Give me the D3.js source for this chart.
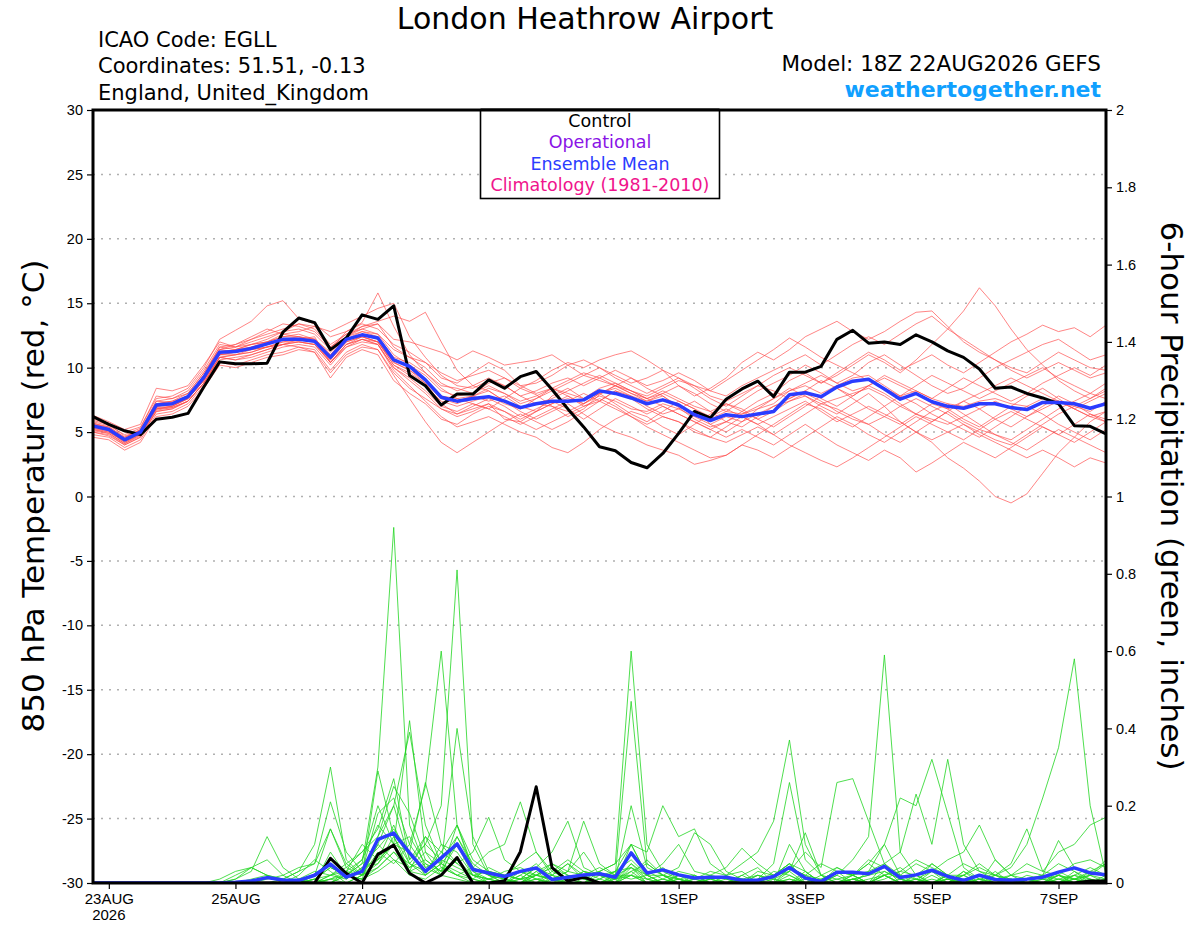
<!DOCTYPE html>
<html>
<head>
<meta charset="utf-8">
<script src="https://cdn.jsdelivr.net/npm/d3@7"></script>
<style>
  body { margin: 0; background: #fff; }
  svg { display: block; font-family: "DejaVu Sans", "Liberation Sans", sans-serif; }
</style>
</head>
<body>
<div id="chart"></div>
<script>
// --- data (6-hourly from 18Z 22AUG2026) ---
const startTime = "2026-08-22T18:00:00Z";
const stepHours = 6;

const tempControl = [
  6.2,5.6,5.1,4.8,6.0,6.15,6.45,8.5,10.45,10.3,
  10.3,10.35,12.75,13.85,13.5,11.4,12.3,14.1,13.75,14.8,
  9.4,8.6,7.1,7.95,7.95,9.05,8.4,9.3,9.7,8.3,
  6.8,5.4,3.86,3.55,2.64,2.23,3.34,4.9,6.6,6.1,
  7.55,8.35,8.95,7.75,9.65,9.65,10.1,12.2,12.9,11.9,
  12.0,11.8,12.55,12.0,11.3,10.8,9.9,8.4,8.5,8.0,
  7.65,7.2,5.5,5.45,4.85
];
const tempMean = [
  5.47,5.2,4.4,5.0,7.1,7.2,7.75,9.25,11.2,11.25,
  11.5,11.85,12.2,12.2,12.05,10.8,12.2,12.55,12.3,10.6,
  10.1,9.05,7.7,7.4,7.6,7.75,7.4,6.9,7.2,7.4,
  7.4,7.5,8.2,8.0,7.65,7.2,7.5,7.1,6.35,5.9,
  6.35,6.2,6.4,6.6,7.9,8.05,7.75,8.5,8.95,9.1,
  8.35,7.55,8.0,7.35,7.0,6.85,7.2,7.2,6.9,6.75,
  7.3,7.3,7.2,6.85,7.2
];
const tempMembers = [
  [5.8,5.5,4.8,5.3,7.8,7.6,8.2,9.8,11.8,11.6, 12.0,12.4,12.8,13.0,12.6,11.4,12.8,13.5,15.8,13.2, 11.0,9.6,8.4,7.6,7.2,6.8,7.6,8.4,7.9,7.0, 6.2,6.8,7.9,8.6,9.2,8.4,7.8,6.9,6.0,5.4, 5.8,6.6,7.4,8.0,9.0,9.6,8.8,9.4,10.2,11.0, 10.4,9.6,10.6,11.8,13.0,14.4,16.2,14.8,13.0,11.4, 10.2,9.0,8.2,7.6,8.4],
  [5.0,4.8,4.0,4.6,6.6,6.8,7.4,8.8,10.8,11.0, 11.2,11.6,11.8,12.2,12.4,10.4,11.8,12.2,12.0,10.4, 9.8,8.8,7.2,6.4,6.8,7.2,6.0,5.8,6.6,7.8, 8.4,7.6,8.0,7.2,6.4,5.8,6.6,7.4,6.8,5.6, 5.0,5.8,6.8,7.6,8.4,7.8,7.0,6.4,7.2,8.0, 7.0,5.8,5.0,4.2,3.0,2.2,1.2,0.0,-0.5,0.2, 1.8,3.4,4.6,5.8,6.6],
  [5.6,5.4,4.6,5.2,7.4,7.6,8.0,9.6,11.4,11.8, 12.2,12.8,13.4,13.2,12.8,11.6,12.4,13.0,12.6,11.4, 10.8,10.4,9.2,8.8,9.6,10.4,9.8,8.6,8.8,9.4, 10.2,10.6,10.0,9.4,8.8,9.2,9.8,8.6,7.8,8.4, 9.2,10.4,11.2,10.6,11.4,12.4,13.0,13.6,12.8,12.2, 12.8,13.6,14.3,14.4,13.2,12.0,11.2,10.6,10.0,9.6, 10.4,11.2,10.6,10.0,9.8],
  [5.2,5.0,4.2,4.8,6.8,7.0,7.6,9.0,10.8,10.6, 10.8,11.2,11.6,11.8,11.6,10.2,11.6,12.2,11.8,9.8, 8.6,7.4,6.2,5.4,5.8,6.2,5.6,5.0,4.6,3.8, 3.4,4.2,5.2,6.0,6.6,6.2,5.4,4.8,5.6,6.4, 7.2,6.8,6.0,5.4,6.2,7.0,7.8,8.4,7.6,6.8, 6.2,5.6,6.4,7.2,6.8,6.0,5.4,6.2,7.0,7.8, 8.4,7.6,6.8,6.2,5.8],
  [5.9,5.6,4.7,5.1,7.2,7.4,7.8,9.4,11.6,11.8, 12.4,13.0,12.6,12.8,13.2,11.8,12.6,13.2,13.4,12.2, 12.0,11.6,11.2,10.6,11.3,10.8,10.2,10.4,10.6,11.0, 10.2,9.4,9.0,8.6,8.2,7.6,8.0,8.6,8.0,7.2, 6.6,7.4,8.2,8.8,9.4,10.2,9.6,8.8,9.4,10.4, 11.0,10.2,9.4,8.6,8.0,8.4,9.2,10.0,10.6,11.2, 11.8,12.2,11.4,10.6,11.0],
  [5.4,5.3,4.5,5.2,7.0,7.2,7.8,9.0,11.2,11.4, 11.8,12.0,12.4,12.6,12.2,11.2,12.4,13.2,13.6,14.0, 13.6,14.3,12.0,9.8,8.6,8.2,7.4,6.8,7.6,8.4, 7.8,7.0,7.4,8.2,7.6,6.8,6.2,5.8,5.0,4.6, 5.4,6.2,5.6,4.8,5.6,6.4,7.2,6.8,6.2,5.6, 4.8,4.2,5.0,5.8,6.6,5.8,5.2,4.8,4.4,5.2, 6.0,6.8,7.4,8.0,7.6],
  [4.8,4.6,3.8,4.4,6.4,6.6,7.2,8.6,10.4,10.2, 10.6,11.0,11.2,11.6,11.4,9.8,11.2,11.8,11.4,9.4, 7.6,5.8,4.2,3.4,4.2,5.0,5.8,6.4,5.8,5.2, 5.8,6.6,7.4,8.2,7.8,7.0,6.4,6.8,7.4,6.6, 5.8,5.4,6.2,7.0,7.6,8.2,7.6,7.0,7.8,8.6, 8.0,7.2,6.4,5.8,6.6,7.4,6.8,6.0,5.4,6.2, 7.0,7.8,7.2,6.4,6.0],
  [5.3,5.0,4.3,4.9,7.0,7.1,7.6,9.2,11.0,11.2, 11.4,11.8,12.2,12.4,12.0,10.6,12.0,12.4,12.0,10.2, 9.6,8.8,7.6,7.2,7.8,8.2,7.4,6.6,6.0,6.6, 7.2,6.4,5.6,5.0,4.6,4.0,3.6,3.2,2.5,2.8, 3.2,4.0,3.6,3.0,3.8,4.6,5.4,6.2,5.6,4.8, 4.2,5.0,5.8,6.6,7.2,6.4,5.6,4.8,4.2,3.6, 4.4,5.2,4.6,4.0,3.4],
  [5.6,5.2,4.4,5.0,7.4,7.3,7.8,9.4,11.4,11.2, 11.6,12.0,12.6,12.4,12.2,11.0,12.2,12.8,12.6,11.0, 10.2,9.4,8.2,7.8,8.0,8.6,8.0,7.2,7.6,8.2, 8.8,9.4,10.0,9.2,8.6,8.0,8.6,9.2,8.4,7.6, 7.0,7.8,8.6,9.4,10.0,9.4,8.8,9.6,10.4,11.2, 10.6,9.8,10.4,11.0,10.2,9.6,10.4,11.2,12.0,12.6, 13.3,12.8,13.1,12.4,13.3],
  [6.0,5.7,5.0,5.4,7.6,7.8,8.4,10.0,12.2,12.9, 13.6,14.8,15.2,13.8,13.4,12.4,12.8,13.4,13.0,11.8, 11.2,10.4,9.6,9.0,9.4,9.8,9.2,8.4,9.0,9.8, 10.4,10.0,10.6,11.0,11.3,10.6,9.8,9.2,8.6,7.8, 7.4,8.0,8.6,8.2,7.6,8.2,9.0,8.4,7.8,8.6, 9.4,8.8,8.2,7.6,8.4,9.2,8.6,8.0,7.4,8.0, 8.8,9.4,10.0,9.4,10.2],
  [5.1,4.9,4.1,4.7,6.7,6.9,7.4,8.8,10.6,10.8, 11.0,11.4,11.8,11.6,11.2,9.6,11.0,11.6,11.4,9.6, 8.4,7.6,6.8,6.4,7.0,7.6,7.0,6.2,6.8,7.4, 6.8,6.0,6.8,7.6,7.0,6.4,7.0,6.4,5.8,5.2, 4.6,5.2,4.6,4.0,4.8,5.6,4.8,4.0,3.4,2.8, 3.6,3.0,1.9,2.6,3.4,4.2,3.6,3.0,3.8,4.6, 5.4,4.8,4.2,5.0,5.8],
  [5.5,5.2,4.4,5.0,7.0,7.2,7.8,9.2,11.2,11.4, 11.6,11.8,12.2,12.2,12.0,10.8,12.2,12.6,12.2,10.6, 10.0,9.0,7.8,7.6,7.8,7.4,7.8,7.0,6.6,7.2, 7.6,7.2,8.0,8.4,7.8,7.4,7.8,7.0,6.4,6.0, 6.6,6.4,6.8,7.2,8.2,8.6,8.0,8.6,9.2,9.4, 8.6,7.8,8.2,7.6,7.2,7.0,7.4,7.6,7.2,7.0, 7.6,7.4,7.0,6.6,7.4],
  [4.6,4.4,3.6,4.2,6.2,6.4,7.0,8.4,10.2,10.0, 10.4,10.8,11.0,11.4,11.2,9.2,10.8,11.4,11.0,9.0, 8.0,7.2,6.0,5.6,6.4,7.0,6.6,5.8,5.2,5.8, 6.4,7.0,7.6,7.0,6.2,5.6,6.2,5.8,5.2,4.6, 4.2,4.8,5.4,4.8,4.0,3.4,2.8,2.3,3.0,3.8, 4.6,5.4,6.2,5.6,5.0,4.4,5.2,6.0,6.6,6.0, 5.4,4.8,5.6,6.4,5.8],
  [5.7,5.4,4.6,5.1,7.2,7.4,8.0,9.6,11.6,11.4, 11.8,12.2,12.8,13.4,13.0,11.6,12.6,13.0,13.4,11.6, 10.8,10.0,8.8,8.2,8.6,9.2,8.6,7.8,8.2,8.8, 9.2,8.6,9.2,9.8,9.2,8.6,9.0,9.6,9.0,8.2, 7.8,8.6,9.2,9.8,10.4,11.0,10.2,11.0,11.8,12.4, 11.8,12.6,13.4,14.0,13.0,12.2,11.4,10.6,9.8,9.2, 9.8,10.4,9.8,9.2,9.6],
  [5.0,4.7,4.0,4.6,6.6,6.8,7.4,8.8,10.8,10.6, 11.0,11.4,11.8,12.0,11.8,10.4,11.6,12.0,11.8,10.0, 9.2,8.2,7.0,6.6,7.2,6.8,6.2,5.6,6.2,6.8, 7.4,8.0,7.4,6.8,6.2,5.4,4.8,4.2,3.6,3.0, 3.2,4.0,4.8,5.6,6.4,7.2,6.8,6.0,5.4,6.2, 7.0,7.8,7.2,6.4,5.8,5.2,4.6,5.4,6.2,7.0, 6.4,5.6,5.0,4.4,5.2],
  [5.4,5.1,4.3,4.9,6.9,7.0,7.6,9.0,11.0,11.0, 11.2,11.6,12.0,12.0,11.8,10.4,11.8,12.4,12.0,10.4, 9.8,9.0,7.8,7.4,7.8,8.4,8.0,7.4,7.8,8.4, 8.0,7.6,8.4,8.8,8.2,7.8,8.4,9.0,8.6,8.2, 9.0,9.8,10.6,11.4,12.3,11.6,10.8,10.2,9.6,9.0, 8.4,7.8,8.6,9.4,8.8,8.2,7.6,8.2,8.8,9.4, 10.0,9.2,8.6,8.0,8.8],
  [5.3,5.1,4.2,4.9,6.8,7.0,7.6,9.0,11.0,11.2, 11.4,11.6,11.8,12.0,11.8,10.6,12.0,12.4,12.0,10.2, 9.4,8.6,7.4,7.0,7.4,7.8,7.2,6.8,7.2,7.0, 6.6,7.2,7.8,7.4,6.8,6.6,7.2,6.8,6.2,5.6, 6.2,5.8,6.4,7.0,7.4,7.8,7.2,7.6,8.0,8.4, 7.8,7.0,6.4,6.0,5.6,6.2,6.8,7.4,6.8,6.2, 6.8,7.4,6.8,6.2,6.6],
  [5.7,5.3,4.5,5.0,7.2,7.2,7.8,9.4,11.4,11.6, 11.8,12.0,12.4,12.4,12.2,11.0,12.4,12.8,12.4,10.8, 10.4,9.6,8.6,8.4,8.0,8.8,9.2,8.6,8.0,8.4, 9.0,9.6,9.2,8.6,8.0,7.6,8.2,7.6,7.0,6.6, 7.2,6.6,6.0,6.6,7.4,8.0,7.4,6.6,6.0,5.6, 6.2,7.0,7.6,7.0,6.4,5.6,5.0,4.4,4.0,4.8, 5.6,6.4,7.0,7.6,8.2],
  [5.2,4.9,4.1,4.8,6.8,6.9,7.4,8.8,10.8,11.0, 11.4,11.6,12.0,12.2,12.0,10.4,11.8,12.2,11.8,10.0, 9.0,8.0,6.8,6.2,6.6,7.2,6.6,6.0,6.6,7.2, 7.8,7.2,8.0,8.6,8.0,7.4,8.0,7.4,6.8,6.2, 6.8,6.2,5.6,6.2,6.8,7.4,6.6,5.8,6.4,7.0, 6.4,5.8,5.0,4.4,5.0,5.6,4.8,4.2,3.6,3.0, 3.6,3.0,2.3,3.0,2.6],
  [6.3,5.8,5.2,5.6,8.4,8.2,8.6,10.2,12.0,11.6, 12.2,12.6,13.0,13.4,13.2,12.8,13.4,14.0,14.6,15.0, 12.4,10.8,9.4,8.6,8.4,9.0,8.6,7.8,7.2,7.6, 8.2,8.8,9.4,8.8,8.2,7.6,7.0,6.4,5.8,5.2, 5.8,6.4,7.0,7.6,8.2,8.8,9.4,8.8,8.2,8.6, 9.2,8.6,8.0,7.4,6.8,7.4,8.0,8.6,9.2,8.6, 8.0,7.4,6.8,7.4,8.0]
];

const precipControl = [
  0,0,0,0,0,0,0,0,0,0,
  0,0,0,0,0,0.064,0.025,0,0.074,0.098,
  0.025,0,0.02,0.066,0,0,0.005,0.081,0.249,0.04,
  0.005,0.015,0,0,0,0,0,0,0,0,
  0,0,0,0,0,0,0,0,0,0,
  0,0,0,0,0,0,0,0,0,0,
  0,0,0,0.005,0.005
];
const precipMean = [
  0,0,0,0,0,0,0,0,0,0.002,
  0.005,0.014,0.008,0.007,0.02,0.049,0.015,0.03,0.113,0.129,
  0.078,0.03,0.065,0.101,0.035,0.026,0.017,0.03,0.039,0.009,
  0.015,0.021,0.024,0.015,0.078,0.026,0.034,0.021,0.013,0.015,
  0.015,0.007,0.007,0.017,0.04,0.013,0.004,0.028,0.028,0.024,
  0.043,0.014,0.021,0.033,0.017,0.007,0.02,0.009,0.007,0.01,
  0.015,0.028,0.039,0.026,0.021
];
const precipMembers = [
  [0,0,0,0,0,0,0,0,0,0, 0,0,0,0,0.01,0.04,0.02,0.05,0.3,0.92, 0.15,0.04,0.02,0.06,0.01,0,0,0.02,0.05,0.01, 0,0,0.01,0.03,0.06,0.02,0,0,0.01,0, 0,0,0,0.02,0.05,0.01,0,0,0,0, 0.03,0.01,0,0,0.02,0,0,0,0,0.01, 0,0,0.02,0.01,0],
  [0,0,0,0,0,0,0,0,0,0, 0,0,0.01,0,0,0.08,0.02,0.01,0.12,0.2, 0.06,0.1,0.2,0.81,0.1,0.02,0,0,0.03,0, 0,0.02,0,0,0.04,0.01,0,0.02,0,0, 0,0.01,0,0,0,0.03,0,0,0.02,0, 0,0,0,0.05,0.02,0,0,0,0.01,0, 0,0.03,0.01,0,0],
  [0,0,0,0,0,0,0,0,0,0.01, 0.03,0.12,0.04,0.01,0.02,0.14,0.05,0.02,0.08,0.05, 0.1,0.25,0.6,0.15,0.03,0,0.01,0,0,0.02, 0.05,0.01,0,0,0.1,0.02,0.04,0.01,0,0, 0,0,0.02,0.01,0,0,0,0.02,0,0, 0,0.01,0,0.03,0,0,0.02,0,0,0, 0.01,0,0,0.03,0.02],
  [0,0,0,0,0,0,0,0,0,0, 0,0,0,0,0.02,0.05,0.01,0.04,0.05,0.1, 0.42,0.08,0.02,0.12,0.05,0.02,0,0.01,0.04,0.02, 0,0,0.03,0,0.02,0.06,0.02,0,0,0.01, 0,0,0,0,0.1,0.03,0,0.04,0.02,0, 0.05,0.01,0,0,0,0.02,0,0,0,0, 0.02,0.05,0.03,0,0.01],
  [0,0,0,0,0,0,0,0,0,0, 0,0,0,0.02,0.06,0.03,0,0.02,0.1,0.2, 0.39,0.15,0.05,0.4,0.12,0.03,0.01,0,0.02,0.01, 0,0.03,0.01,0,0.02,0,0,0,0.02,0, 0,0.02,0,0,0.03,0,0,0,0,0.01, 0.02,0,0,0,0,0.01,0,0.03,0,0, 0,0,0.01,0.02,0],
  [0,0,0,0,0,0,0,0,0,0.01, 0.04,0.02,0.01,0.03,0.1,0.3,0.06,0.02,0.29,0.12, 0.03,0.05,0.02,0.01,0,0,0,0.03,0.01,0, 0,0,0,0.02,0.04,0,0,0.01,0,0, 0,0,0,0,0.02,0,0.01,0.03,0,0, 0,0,0.02,0,0.01,0,0,0,0.02,0.01, 0,0.01,0,0,0],
  [0,0,0,0,0,0,0,0,0,0, 0,0,0,0,0,0.01,0.02,0.01,0.04,0.08, 0.03,0.02,0.05,0.03,0.01,0.04,0.02,0.01,0.02,0.04, 0.01,0.02,0.03,0.05,0.6,0.1,0.03,0.01,0,0.02, 0.01,0,0,0,0.04,0.02,0,0,0.01,0, 0.02,0,0,0.01,0,0.03,0,0,0,0, 0,0.02,0.01,0.03,0.05],
  [0,0,0,0,0,0,0,0,0,0, 0,0,0,0.01,0,0,0.03,0.1,0.06,0.15, 0.05,0.02,0.1,0.08,0.02,0.01,0,0.02,0,0.01, 0.03,0.08,0.02,0.02,0.47,0.05,0.02,0,0.01,0, 0,0.02,0.04,0,0,0.01,0,0,0,0.03, 0.1,0.02,0,0,0.01,0,0,0.01,0,0, 0,0,0.02,0,0.01],
  [0,0,0,0,0,0,0,0,0,0, 0,0,0,0,0.01,0.02,0.03,0.06,0.2,0.1, 0.03,0.12,0.04,0.02,0.01,0,0,0,0.02,0.01, 0,0,0.01,0.03,0.1,0.02,0,0,0.01,0.02, 0,0,0.01,0.02,0.05,0.03,0,0.02,0.06,0.12, 0.59,0.08,0.02,0.05,0.02,0,0.01,0,0,0.01, 0.02,0,0.01,0,0],
  [0,0,0,0,0,0,0,0,0,0, 0,0,0,0,0,0,0.02,0.01,0.03,0.06, 0.02,0.01,0.04,0.02,0,0.01,0,0,0.01,0, 0.02,0,0,0.01,0.03,0,0.01,0,0,0, 0,0.01,0,0.03,0.02,0,0,0,0.01,0, 0.02,0,0.01,0,0,0.03,0.01,0.02,0.04,0.1, 0.22,0.35,0.58,0.2,0.02],
  [0,0,0,0,0,0,0,0,0,0, 0,0,0,0,0,0.02,0.04,0.08,0.12,0.25, 0.18,0.06,0.03,0.15,0.04,0.02,0.01,0.03,0.01,0, 0.01,0,0.02,0,0.05,0.01,0,0.02,0.01,0.03, 0.02,0.05,0.08,0.16,0.37,0.1,0.02,0,0.01,0.02, 0.04,0,0,0.02,0,0.01,0,0,0.01,0, 0,0.02,0,0,0.01],
  [0,0,0,0,0,0,0,0,0,0, 0,0,0,0,0.01,0,0.02,0.05,0.09,0.14, 0.08,0.02,0.05,0.1,0.03,0.01,0.02,0.05,0.08,0.03, 0.01,0,0,0.02,0.08,0.03,0.01,0,0,0.01, 0,0,0.02,0.01,0,0.02,0.05,0.03,0.02,0.05, 0.1,0.22,0.2,0.32,0.18,0.04,0.01,0,0,0.02, 0.01,0,0.03,0.01,0],
  [0,0,0,0,0,0,0,0,0,0, 0,0,0,0.01,0.03,0.02,0.01,0.04,0.06,0.1, 0.12,0.05,0.03,0.06,0.02,0,0,0.01,0.02,0.04, 0.02,0.01,0,0,0.03,0.05,0.02,0.01,0,0, 0.01,0,0,0.02,0.05,0,0,0.01,0.02,0.03, 0.05,0.08,0.23,0.1,0.32,0.1,0.03,0.02,0.01,0, 0,0.01,0.02,0.04,0.02],
  [0,0,0,0,0,0,0,0,0,0, 0,0,0,0,0,0.01,0.03,0.02,0.05,0.12, 0.05,0.1,0.06,0.04,0.02,0.01,0,0,0.01,0.02, 0.05,0.02,0,0.01,0.02,0,0.01,0.03,0.02,0, 0,0,0,0.01,0.03,0.08,0.04,0.26,0.27,0.16, 0.05,0.02,0.01,0,0.02,0,0.01,0,0,0.01, 0.02,0.01,0,0.02,0.01],
  [0,0,0,0,0,0,0,0,0,0.02, 0.04,0.06,0.02,0.04,0.05,0.21,0.08,0.03,0.1,0.06, 0.04,0.08,0.05,0.02,0.04,0.08,0.1,0.21,0.08,0.02, 0.01,0.03,0.02,0.01,0.05,0.02,0,0.01,0.02,0, 0,0.01,0.02,0,0.01,0,0.02,0,0.01,0, 0.02,0,0.01,0.03,0.01,0,0,0.02,0.01,0, 0,0.02,0.01,0,0.02],
  [0,0,0,0,0,0,0,0,0,0, 0,0.01,0.02,0,0.01,0.04,0.02,0.06,0.15,0.1, 0.08,0.26,0.1,0.05,0.08,0.17,0.06,0.03,0.02,0.05, 0.03,0.02,0.04,0.02,0.02,0.01,0.02,0,0,0.01, 0,0,0.03,0.02,0.04,0.01,0,0,0.02,0, 0.01,0.03,0.02,0,0,0.02,0.05,0.02,0,0.01, 0,0,0.01,0.02,0.05],
  [0,0,0,0,0,0,0,0,0,0, 0,0,0,0,0,0.01,0,0.02,0.04,0.08, 0.05,0.03,0.08,0.05,0.02,0.03,0.02,0.01,0.04,0.08, 0.16,0.04,0.02,0.03,0.04,0.02,0.02,0.01,0,0, 0.02,0.03,0,0,0.01,0,0,0,0.01,0.02, 0.03,0.01,0,0,0.02,0.05,0.03,0.01,0.02,0.05, 0.03,0.08,0.1,0.15,0.17],
  [0,0,0,0,0,0,0,0,0,0, 0.01,0.02,0,0,0.02,0.06,0.02,0.03,0.18,0.22, 0.1,0.04,0.06,0.12,0.04,0.02,0.01,0,0.03,0.05, 0.02,0.01,0.03,0.05,0.1,0.08,0.2,0.12,0.14,0.05, 0.02,0,0.01,0.05,0.26,0.06,0.02,0.01,0,0, 0.02,0.04,0.01,0,0.01,0.02,0,0.06,0.02,0, 0.01,0.02,0,0.01,0],
  [0,0,0,0,0,0,0,0,0,0, 0,0,0,0,0,0.02,0.05,0.08,0.14,0.27, 0.06,0.12,0.08,0.15,0.06,0.03,0.02,0.01,0,0.03, 0.06,0.03,0.02,0.01,0.2,0.04,0.02,0.04,0.13,0.1, 0.03,0.01,0,0.02,0.04,0.02,0.01,0.03,0.02,0.06, 0.04,0.02,0.05,0.03,0.06,0.08,0.15,0.06,0.02,0.03, 0.02,0.11,0.04,0.02,0.06],
  [0,0,0,0,0,0,0,0,0.01,0.03, 0.04,0.02,0.01,0.03,0.05,0.14,0.04,0.02,0.06,0.1, 0.04,0.06,0.03,0.1,0.02,0.01,0.03,0.04,0.02,0.01, 0.03,0.16,0.05,0.02,0.01,0.02,0.05,0.1,0.03,0.02, 0.04,0.09,0.05,0.02,0.03,0.13,0.02,0.04,0.02,0.05, 0.02,0.03,0.06,0.04,0.02,0.02,0.04,0.02,0.05,0.14, 0.03,0.02,0.05,0.06,0.04]
];

const tempTicks = [30,25,20,15,10,5,0,-5,-10,-15,-20,-25,-30];
const gridTicks = [25,20,15,10,5,0,-5,-10,-15,-20,-25];
const precipTicks = [0,0.2,0.4,0.6,0.8,1,1.2,1.4,1.6,1.8,2];
const dateTicks = ["2026-08-23","2026-08-25","2026-08-27","2026-08-29","2026-09-01","2026-09-03","2026-09-05","2026-09-07"];
const dateTickLabels = ["23AUG","25AUG","27AUG","29AUG","1SEP","3SEP","5SEP","7SEP"];
const legendLabels = ["Control","Operational","Ensemble Mean","Climatology (1981-2010)"];
const infoLines = ["ICAO Code: EGLL","Coordinates: 51.51, -0.13","England, United_Kingdom"];

// --- styles / layout ---
const W = 1200, H = 927;
const plot = { left: 93, right: 1106, top: 110, bottom: 883 };
const legendColors = ["#000000", "#8a14e6", "#2a3cff", "#f0148c"];
const memberRed = "#ff4a4a";
const memberGreen = "#22d622";
const meanBlue = "#2a3cff";
const tickFont = "Liberation Sans, Arial, sans-serif";

const svg = d3.select("#chart").append("svg")
  .attr("width", W).attr("height", H);

const t0 = new Date(startTime);
const times = tempControl.map((d, i) => new Date(t0.getTime() + i * stepHours * 3600e3));

const x = d3.scaleUtc().domain(d3.extent(times)).range([plot.left, plot.right]);
const yT = d3.scaleLinear().domain([-30, 30]).range([plot.bottom, plot.top]);
const yP = d3.scaleLinear().domain([0, 2]).range([plot.bottom, plot.top]);

svg.append("defs").append("clipPath").attr("id", "plotClip")
  .append("rect")
  .attr("x", plot.left).attr("y", plot.top)
  .attr("width", plot.right - plot.left).attr("height", plot.bottom - plot.top);

// gridlines
svg.append("g")
  .selectAll("line")
  .data(gridTicks)
  .join("line")
  .attr("x1", plot.left).attr("x2", plot.right)
  .attr("y1", d => yT(d)).attr("y2", d => yT(d))
  .attr("stroke", "#b0b0b0")
  .attr("stroke-width", 1.5)
  .attr("stroke-dasharray", "2,6");

const lineT = d3.line().x((d, i) => x(times[i])).y(d => yT(d));
const lineP = d3.line().x((d, i) => x(times[i])).y(d => yP(d));

const data = svg.append("g").attr("clip-path", "url(#plotClip)");

data.append("g")
  .selectAll("path")
  .data(tempMembers)
  .join("path")
  .attr("d", lineT)
  .attr("fill", "none")
  .attr("stroke", memberRed)
  .attr("stroke-opacity", 0.85)
  .attr("stroke-width", 0.8);

data.append("g")
  .selectAll("path")
  .data(precipMembers)
  .join("path")
  .attr("d", lineP)
  .attr("fill", "none")
  .attr("stroke", memberGreen)
  .attr("stroke-width", 0.8);

data.append("path").attr("d", lineT(tempControl))
  .attr("fill", "none").attr("stroke", "#000").attr("stroke-width", 3)
  .attr("stroke-linejoin", "round");
data.append("path").attr("d", lineT(tempMean))
  .attr("fill", "none").attr("stroke", meanBlue).attr("stroke-width", 3.5)
  .attr("stroke-linejoin", "round");
data.append("path").attr("d", lineP(precipControl))
  .attr("fill", "none").attr("stroke", "#000").attr("stroke-width", 3)
  .attr("stroke-linejoin", "round");
data.append("path").attr("d", lineP(precipMean))
  .attr("fill", "none").attr("stroke", meanBlue).attr("stroke-width", 3.5)
  .attr("stroke-linejoin", "round");

// axes
const axisLeft = svg.append("g")
  .attr("transform", `translate(${plot.left},0)`)
  .call(d3.axisLeft(yT).tickValues(tempTicks).tickSize(6).tickPadding(4).tickFormat(d => d));
const axisRight = svg.append("g")
  .attr("transform", `translate(${plot.right},0)`)
  .call(d3.axisRight(yP).tickValues(precipTicks).tickSize(6).tickPadding(4).tickFormat(d => d));
const axisBottom = svg.append("g")
  .attr("transform", `translate(0,${plot.bottom})`)
  .call(d3.axisBottom(x)
    .tickValues(dateTicks.map(d => new Date(d + "T00:00:00Z")))
    .tickSize(6).tickPadding(4)
    .tickFormat((d, i) => dateTickLabels[i]));

[axisLeft, axisRight, axisBottom].forEach(a => {
  a.select(".domain").remove();
  a.selectAll("text").attr("font-size", 14.5).attr("fill", "#000")
    .attr("font-family", tickFont);
  a.selectAll("line").attr("stroke", "#000").attr("stroke-width", 1.2);
});
axisBottom.selectAll("text").attr("font-size", 15);

// year under first date
svg.append("text")
  .attr("x", x(new Date(dateTicks[0] + "T00:00:00Z")))
  .attr("y", 920)
  .attr("text-anchor", "middle")
  .attr("font-size", 15)
  .attr("font-family", tickFont)
  .text("2026");

// frame
svg.append("rect")
  .attr("x", plot.left).attr("y", plot.top)
  .attr("width", plot.right - plot.left).attr("height", plot.bottom - plot.top)
  .attr("fill", "none").attr("stroke", "#000").attr("stroke-width", 3);

// legend box
const legend = svg.append("g");
legend.append("rect")
  .attr("x", 480.5).attr("y", plot.top)
  .attr("width", 239).attr("height", 88.5)
  .attr("fill", "#fff").attr("stroke", "#000").attr("stroke-width", 1.6);
legend.selectAll("text")
  .data(legendLabels)
  .join("text")
  .attr("x", 600)
  .attr("y", (d, i) => 127 + i * 21.4)
  .attr("text-anchor", "middle")
  .attr("font-size", 17.5)
  .attr("fill", (d, i) => legendColors[i])
  .text(d => d);
svg.append("line")
  .attr("x1", 480.5).attr("x2", 719.5).attr("y1", plot.top).attr("y2", plot.top)
  .attr("stroke", "#000").attr("stroke-width", 3);

// titles
svg.append("text")
  .attr("x", 585).attr("y", 29)
  .attr("text-anchor", "middle")
  .attr("font-size", 30)
  .text("London Heathrow Airport");

svg.append("g")
  .selectAll("text")
  .data(infoLines)
  .join("text")
  .attr("x", 98)
  .attr("y", (d, i) => 46.5 + i * 26.5)
  .attr("font-size", 21)
  .text(d => d);

svg.append("text")
  .attr("x", 1101).attr("y", 71)
  .attr("text-anchor", "end")
  .attr("font-size", 21.5)
  .text("Model: 18Z 22AUG2026 GEFS");

svg.append("text")
  .attr("x", 1101).attr("y", 97)
  .attr("text-anchor", "end")
  .attr("font-size", 22)
  .attr("font-weight", "bold")
  .attr("fill", "#10a0ff")
  .text("weathertogether.net");

// axis titles
svg.append("text")
  .attr("transform", `translate(44,496) rotate(-90)`)
  .attr("text-anchor", "middle")
  .attr("font-size", 31)
  .text("850 hPa Temperature (red, °C)");

svg.append("text")
  .attr("transform", `translate(1161,496) rotate(90)`)
  .attr("text-anchor", "middle")
  .attr("font-size", 31)
  .text("6-hour Precipitation (green, inches)");
</script>
</body>
</html>
